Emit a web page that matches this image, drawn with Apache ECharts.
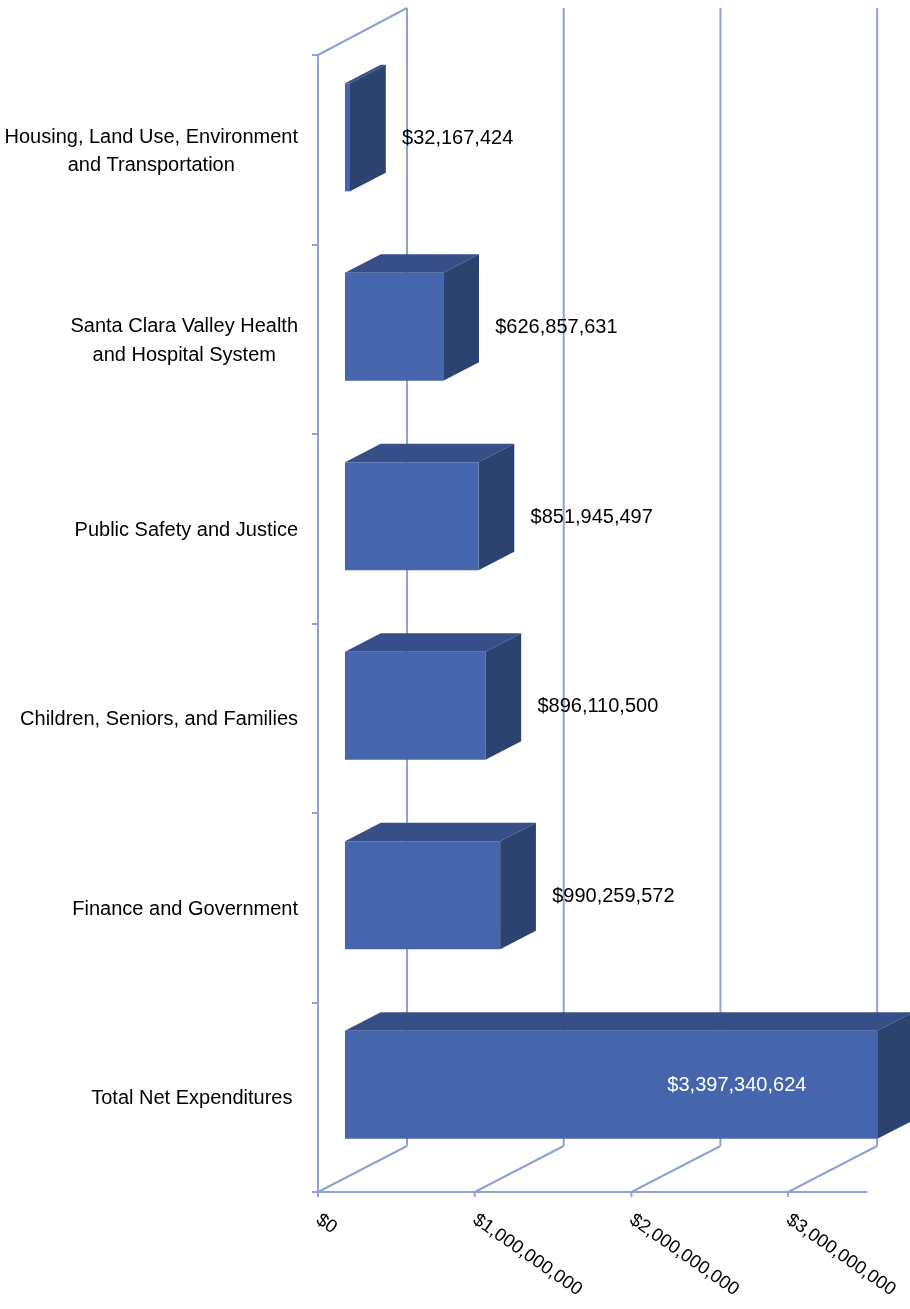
<!DOCTYPE html>
<html><head><meta charset="utf-8">
<script src="https://cdn.jsdelivr.net/npm/echarts@6/dist/echarts.min.js"></script>
<style>html,body{margin:0;padding:0;background:#fff}#c{width:910px;height:1309px}</style>
</head><body><div id="c"></div>
<script>
const categories = [
  'Housing, Land Use, Environment\nand Transportation',
  'Santa Clara Valley Health\nand Hospital System',
  'Public Safety and Justice',
  'Children, Seniors, and Families',
  'Finance and Government',
  'Total Net Expenditures '
];
const values = [32167424, 626857631, 851945497, 896110500, 990259572, 3397340624];
const valueLabels = ['$32,167,424', '$626,857,631', '$851,945,497', '$896,110,500', '$990,259,572', '$3,397,340,624'];
const tickValues = [0, 1000000000, 2000000000, 3000000000];
const tickLabels = ['$0', '$1,000,000,000', '$2,000,000,000', '$3,000,000,000'];

const FONT = '"Liberation Sans", Arial, sans-serif';
const LINE = '#8EA2D6';
const FRONT = '#4566AD', TOP = '#374F88', SIDE = '#2C4370';
const DEPTH = [89, -46];
const BAR_FRONT = 0.303, BAR_BACK = 0.705, BAR_H = 108;

const ctx = document.createElement('canvas').getContext('2d');
ctx.font = '20px ' + FONT;
function textW(s) { return Math.max.apply(null, s.split('\n').map(l => ctx.measureText(l).width)); }

const chart = echarts.init(document.getElementById('c'), null, {renderer: 'canvas'});

function renderBack(params, api) {
  const cs = params.coordSys;
  const top = cs.y, bottom = cs.y + cs.height;
  const children = [];
  const ls = {stroke: LINE, lineWidth: 2};
  tickValues.forEach(v => {
    const x = api.coord([v, 0])[0];
    children.push({type: 'line', shape: {x1: x + DEPTH[0], y1: top + DEPTH[1] - 1, x2: x + DEPTH[0], y2: bottom + DEPTH[1]}, style: ls});
    children.push({type: 'line', shape: {x1: x, y1: bottom, x2: x + DEPTH[0], y2: bottom + DEPTH[1]}, style: ls});
    children.push({type: 'line', shape: {x1: x, y1: bottom, x2: x, y2: bottom + 5}, style: ls});
  });
  const x0 = api.coord([0, 0])[0];
  children.push({type: 'line', shape: {x1: x0, y1: top, x2: x0 + DEPTH[0], y2: top + DEPTH[1] - 1}, style: ls});
  return {type: 'group', children: children};
}

function renderBar(params, api) {
  const v = api.value(0), ci = api.value(1);
  const p0 = api.coord([0, ci]);
  const p1 = api.coord([v, ci]);
  const fx = DEPTH[0] * BAR_FRONT, fy = DEPTH[1] * BAR_FRONT;
  const dx = DEPTH[0] * (BAR_BACK - BAR_FRONT), dy = DEPTH[1] * (BAR_BACK - BAR_FRONT);
  const x0 = p0[0] + fx, x1 = p1[0] + fx;
  const cy = p0[1] + fy + 1.5;
  const y0 = cy - BAR_H / 2, y1 = cy + BAR_H / 2;
  const lbl = valueLabels[params.dataIndex];
  const lw = textW(lbl);
  let lx = p1[0] + 79, align = 'left', color = '#000';
  if (lx + lw > params.coordSys.x + params.coordSys.width + 40) {
    lx = x1 - 71; align = 'right'; color = '#fff';
  }
  return {type: 'group', children: [
    {type: 'polygon', shape: {points: [[x0, y0], [x1, y0], [x1 + dx, y0 + dy], [x0 + dx, y0 + dy]]}, style: {fill: TOP}},
    {type: 'polygon', shape: {points: [[x1, y0], [x1 + dx, y0 + dy], [x1 + dx, y1 + dy], [x1, y1]]}, style: {fill: SIDE}},
    {type: 'rect', shape: {x: x0, y: y0, width: x1 - x0, height: BAR_H}, style: {fill: FRONT}},
    {type: 'text', x: lx, y: cy + 1, style: {text: lbl, fill: color, font: '20px ' + FONT, align: align, verticalAlign: 'middle'}}
  ]};
}

function renderCat(params, api) {
  const ci = api.value(1);
  const p = api.coord([0, ci]);
  const s = categories[ci];
  const w = textW(s);
  return {type: 'text', x: p[0] - 20 - w / 2, y: p[1] + 1.5,
    style: {text: s, fill: '#000', font: '20px ' + FONT, align: 'center', verticalAlign: 'middle', lineHeight: 28.5}};
}

chart.setOption({
  animation: false,
  grid: {left: 318, top: 55, width: 548.5, height: 1137, containLabel: false},
  xAxis: {
    type: 'value', min: 0, max: 3500000000, interval: 1000000000,
    axisLine: {show: true, lineStyle: {color: LINE, width: 2}},
    axisTick: {show: false},
    axisLabel: {customValues: tickValues, rotate: -35, margin: 26,
      fontSize: 18.5, fontFamily: FONT, color: '#000', hideOverlap: false,
      formatter: v => { const i = tickValues.indexOf(v); return i >= 0 ? tickLabels[i] : ''; }},
    splitLine: {show: false}
  },
  yAxis: {
    type: 'category', data: categories, inverse: true,
    axisLine: {show: true, lineStyle: {color: LINE, width: 2}},
    axisTick: {show: true, length: 6, lineStyle: {color: LINE, width: 2}},
    axisLabel: {show: false},
    splitLine: {show: false}
  },
  series: [
    {type: 'custom', clip: false, silent: true, renderItem: renderBack, data: [[0, 0]], z: 1},
    {type: 'custom', clip: false, silent: true, renderItem: renderBar, data: values.map((v, i) => [v, i]), z: 3},
    {type: 'custom', clip: false, silent: true, renderItem: renderCat, data: categories.map((c, i) => [0, i]), z: 3}
  ]
});
</script></body></html>
